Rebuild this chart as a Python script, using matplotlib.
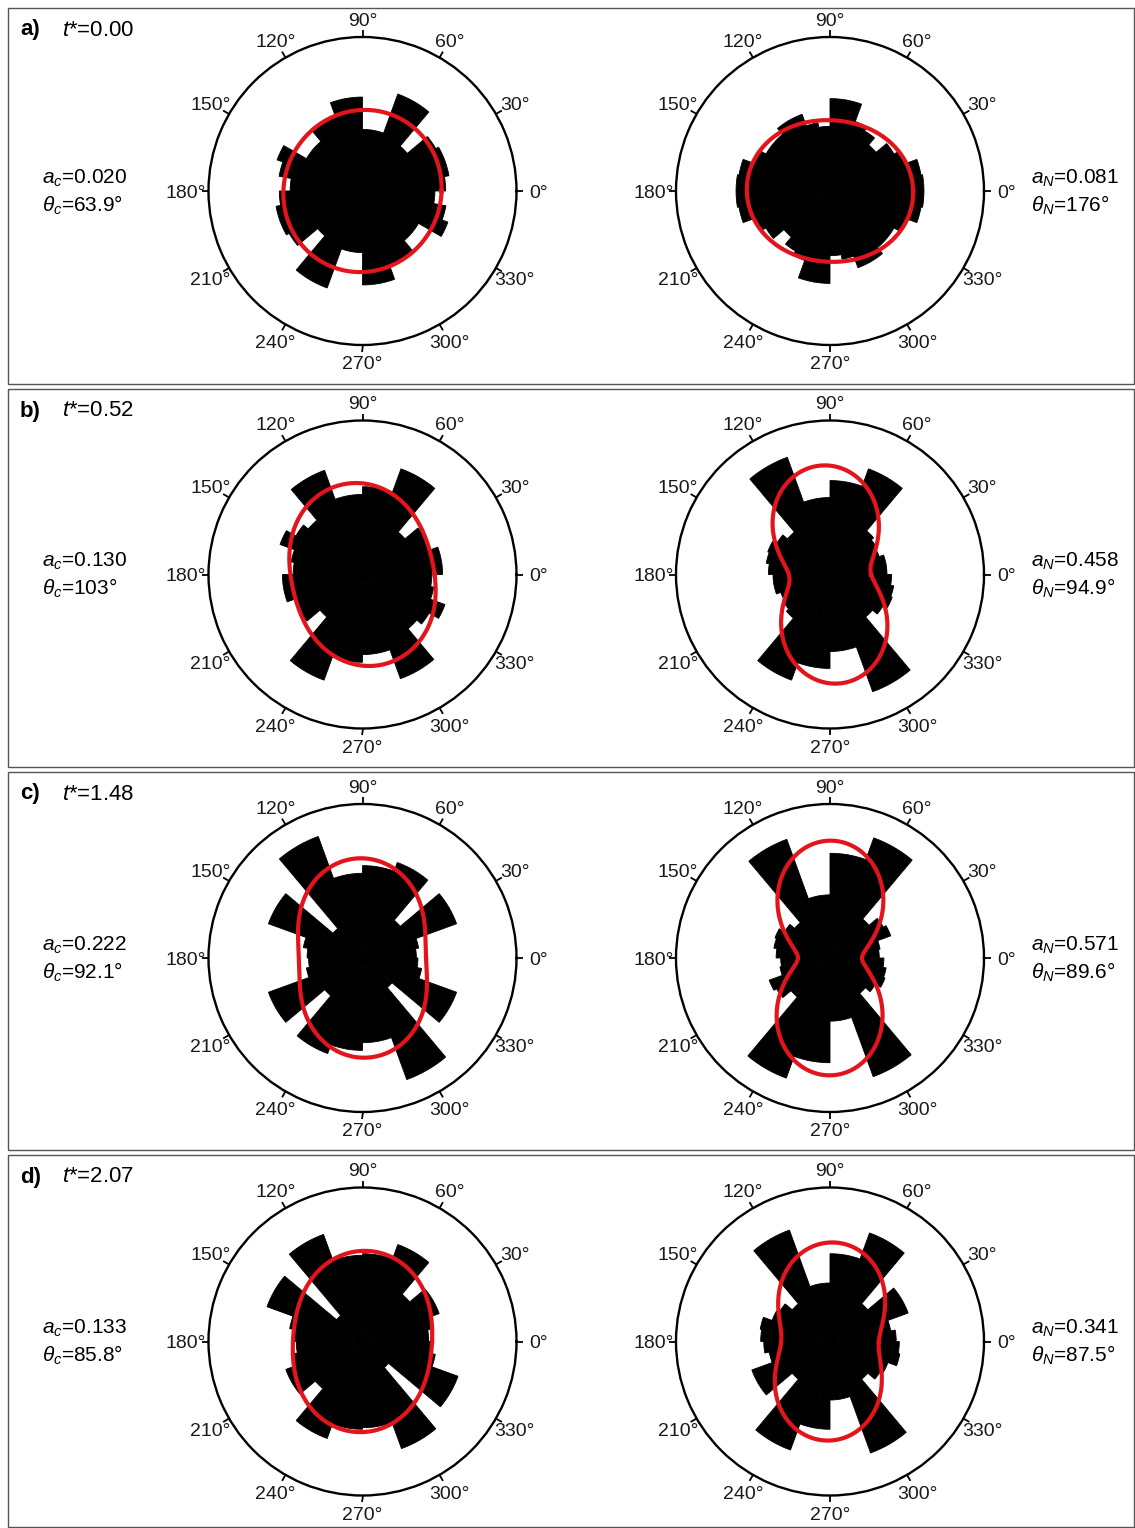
import numpy as np
import matplotlib.pyplot as plt
from matplotlib.patches import Rectangle

plt.rcParams['font.family'] = 'Liberation Sans'
plt.rcParams['mathtext.fontset'] = 'custom'
plt.rcParams['mathtext.rm'] = 'Liberation Sans'
plt.rcParams['mathtext.it'] = 'Liberation Sans:italic'

# dimensionless times of the four snapshots
times = ['0.00', '0.52', '1.48', '2.07']
panel_tags = ['a)', 'b)', 'c)', 'd)']

# second-order Fourier fit parameters (anisotropy, principal direction)
a_c = [0.020, 0.130, 0.222, 0.133]
theta_c = [63.9, 103, 92.1, 85.8]
a_N = [0.081, 0.458, 0.571, 0.341]
theta_N = [176, 94.9, 89.6, 87.5]

# mean values of the fitted distributions (same radial scale as the bars)
r0_c = [0.52, 0.53, 0.53, 0.52]
r0_N = [0.50, 0.487, 0.485, 0.48]

# rose diagram values in 10 deg bins from 0 to 180 deg (mirrored for 180-360)
contact_a = [0.54, 0.57, 0.57, 0.55, 0.38, 0.67, 0.67, 0.40, 0.40,
             0.61, 0.61, 0.52, 0.52, 0.42, 0.42, 0.59, 0.55, 0.47]
contact_b = [0.52, 0.52, 0.47, 0.47, 0.36, 0.73, 0.73, 0.57, 0.57,
             0.52, 0.52, 0.72, 0.72, 0.46, 0.50, 0.57, 0.47, 0.45]
contact_c = [0.35, 0.37, 0.65, 0.65, 0.32, 0.66, 0.66, 0.60, 0.60,
             0.55, 0.55, 0.84, 0.84, 0.25, 0.65, 0.65, 0.39, 0.36]
contact_d = [0.43, 0.47, 0.53, 0.53, 0.40, 0.67, 0.67, 0.57, 0.57,
             0.56, 0.56, 0.74, 0.74, 0.22, 0.66, 0.66, 0.48, 0.45]

force_a = [0.61, 0.60, 0.52, 0.48, 0.39, 0.45, 0.48, 0.60, 0.60,
           0.42, 0.45, 0.53, 0.53, 0.48, 0.48, 0.52, 0.60, 0.61]
force_b = [0.37, 0.37, 0.34, 0.35, 0.37, 0.73, 0.73, 0.61, 0.61,
           0.50, 0.50, 0.81, 0.81, 0.36, 0.40, 0.43, 0.42, 0.40]
force_c = [0.32, 0.33, 0.42, 0.40, 0.33, 0.83, 0.83, 0.68, 0.68,
           0.41, 0.41, 0.82, 0.82, 0.30, 0.34, 0.38, 0.37, 0.35]
force_d = [0.43, 0.40, 0.54, 0.54, 0.32, 0.75, 0.75, 0.57, 0.57,
           0.38, 0.38, 0.77, 0.77, 0.32, 0.38, 0.40, 0.46, 0.45]

contact_hists = [contact_a, contact_b, contact_c, contact_d]
force_hists = [force_a, force_b, force_c, force_d]

W, H = 1135, 1528
fig = plt.figure(figsize=(W / 100, H / 100), dpi=100)

row_tops = [8, 389, 772, 1155]
row_bottoms = [384, 767, 1150, 1527]
row_centers = [191, 574.5, 958, 1341.5]
col_centers = [362.5, 830]
R = 154

bin_width = np.deg2rad(10)
bin_centers = np.deg2rad(np.arange(5, 360, 10))
theta_fit = np.linspace(0, 2 * np.pi, 721)
degs = np.arange(0, 360, 30)


def rose(cx, cy, hist, a, t0, r0):
    ax = fig.add_axes([(cx - R) / W, 1 - (cy + R) / H, 2 * R / W, 2 * R / H],
                      projection='polar')
    vals = np.concatenate([hist, hist])
    ax.bar(bin_centers, vals, width=bin_width, color='black',
           edgecolor='black', linewidth=0.6, align='center')
    r_fit = r0 * (1 + a * np.cos(2 * (theta_fit - np.deg2rad(t0))))
    ax.plot(theta_fit, r_fit, color='#e3141b', lw=3.0)
    # short outward ticks on the rim and their angle labels
    for d in degs:
        t = np.deg2rad(d)
        ax.plot([t, t], [1.0, 1.045], color='black', lw=1.3,
                solid_capstyle='butt', clip_on=False)
        # wide labels on the sides sit a little further out
        r_lab = 1.115 + 0.03 * abs(np.cos(t))
        ax.text(t, r_lab, f'{d}\u00b0', ha='center', va='center_baseline',
                fontsize=14, color='#1a1a1a', clip_on=False)
    ax.set_ylim(0, 1)
    ax.set_yticks([])
    ax.set_xticks([])
    ax.grid(False)
    ax.spines['polar'].set_linewidth(1.7)
    return ax


for i in range(4):
    top, bot, cy = row_tops[i], row_bottoms[i], row_centers[i]
    fig.patches.append(Rectangle((8 / W, 1 - bot / H), (1134 - 8) / W,
                                 (bot - top) / H, transform=fig.transFigure,
                                 fill=False, edgecolor='#555555', lw=1.0))
    fig.text(20 / W, 1 - (top + 22) / H, panel_tags[i], fontsize=16,
             fontweight='bold', va='center')
    fig.text(62 / W, 1 - (top + 22) / H, r'$t$*=' + times[i], fontsize=16,
             va='center')

    rose(col_centers[0], cy, contact_hists[i], a_c[i], theta_c[i], r0_c[i])
    rose(col_centers[1], cy, force_hists[i], a_N[i], theta_N[i], r0_N[i])

    fig.text(42 / W, 1 - (cy - 13) / H, r'$a_c$=' + f'{a_c[i]:.3f}',
             fontsize=15, va='center')
    fig.text(42 / W, 1 - (cy + 14) / H, r'$\theta_c$=' + f'{theta_c[i]:g}\u00b0',
             fontsize=15, va='center')
    fig.text(1031 / W, 1 - (cy - 13) / H, r'$a_N$=' + f'{a_N[i]:.3f}',
             fontsize=15, va='center')
    fig.text(1031 / W, 1 - (cy + 14) / H, r'$\theta_N$=' + f'{theta_N[i]:g}\u00b0',
             fontsize=15, va='center')

fig.savefig('out.png', dpi=100)
